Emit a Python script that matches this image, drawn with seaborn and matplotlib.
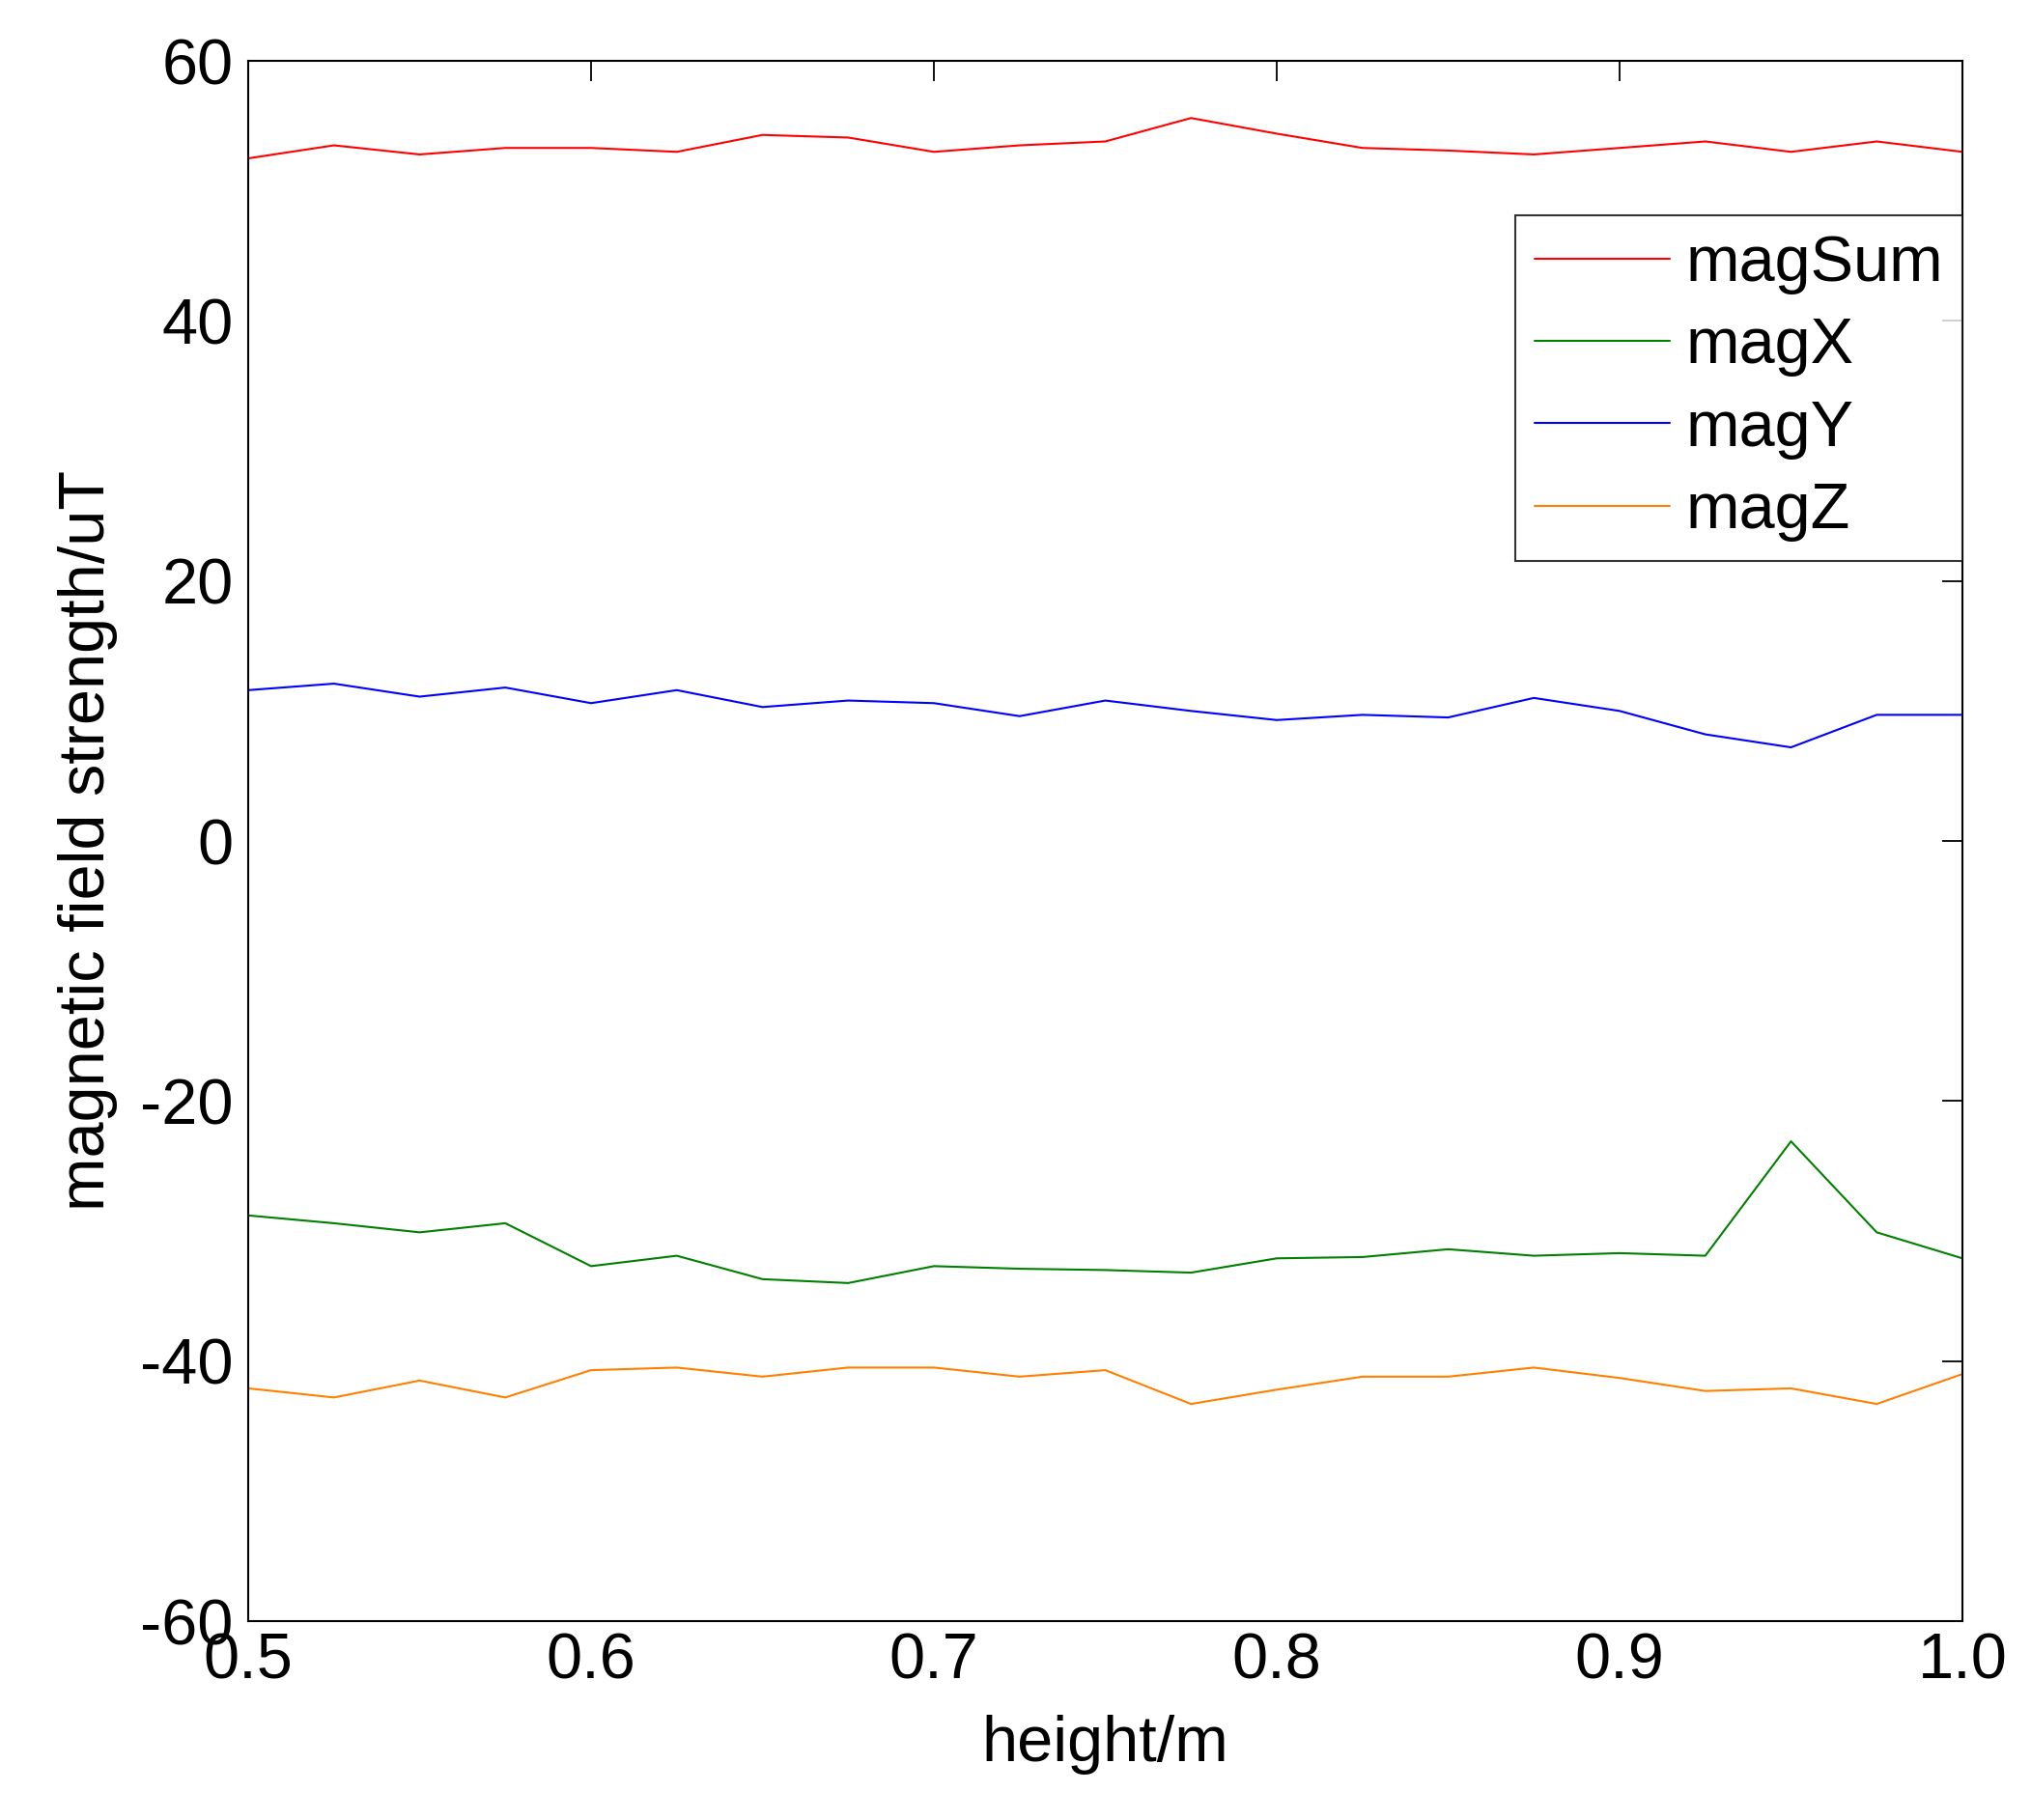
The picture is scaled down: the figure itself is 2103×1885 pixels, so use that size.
import numpy as np
import pandas as pd
import matplotlib
matplotlib.use("Agg")
import matplotlib.pyplot as plt
import seaborn as sns

# ── Data ───────────────────────────────────────────────
height = [0.5, 0.525, 0.55, 0.575, 0.6, 0.625, 0.65, 0.675, 0.7, 0.725, 0.75,
          0.775, 0.8, 0.825, 0.85, 0.875, 0.9, 0.925, 0.95, 0.975, 1.0]
mag_sum = [52.5, 53.5, 52.8, 53.3, 53.3, 53.0, 54.3, 54.1, 53.0, 53.5, 53.8,
           55.6, 54.4, 53.3, 53.1, 52.8, 53.3, 53.8, 53.0, 53.8, 53.0]
mag_x = [-28.8, -29.4, -30.1, -29.4, -32.7, -31.9, -33.7, -34.0, -32.7, -32.9, -33.0,
         -33.2, -32.1, -32.0, -31.4, -31.9, -31.7, -31.9, -23.1, -30.1, -32.1]
mag_y = [11.6, 12.1, 11.1, 11.8, 10.6, 11.6, 10.3, 10.8, 10.6, 9.6, 10.8,
         10.0, 9.3, 9.7, 9.5, 11.0, 10.0, 8.2, 7.2, 9.7, 9.7]
mag_z = [-42.1, -42.8, -41.5, -42.8, -40.7, -40.5, -41.2, -40.5, -40.5, -41.2, -40.7,
         -43.3, -42.2, -41.2, -41.2, -40.5, -41.3, -42.3, -42.1, -43.3, -41.0]

series = ["magSum", "magX", "magY", "magZ"]
colors = ["#ff0000", "#008000", "#0000ff", "#ff8000"]

df = pd.DataFrame({"height": height, "magSum": mag_sum, "magX": mag_x,
                   "magY": mag_y, "magZ": mag_z})
long_df = df.melt(id_vars="height", var_name="series", value_name="value")

# ── Style ──────────────────────────────────────────────
sns.set_style("white")
plt.rcParams["font.family"] = ["Liberation Sans", "DejaVu Sans"]
plt.rcParams["axes.unicode_minus"] = False
plt.rcParams["text.color"] = "black"
plt.rcParams["axes.labelcolor"] = "black"
FS = 48

W, H = 2103, 1885
fig = plt.figure(figsize=(W / 100, H / 100), dpi=100)
ax = fig.add_axes([257 / W, 1 - 1679 / H, (2032 - 257) / W, (1679 - 63) / H])

sns.lineplot(data=long_df, x="height", y="value", hue="series",
             hue_order=series, palette=colors, linewidth=1.5, ax=ax,
             legend=True)

ax.set_xlim(0.5, 1.0)
ax.set_ylim(-60, 60)
ax.set_xticks(np.arange(0.5, 1.01, 0.1))
ax.set_xticklabels(["0.5", "0.6", "0.7", "0.8", "0.9", "1.0"])
ax.set_yticks(np.arange(-60, 61, 20))

for side in ax.spines.values():
    side.set_visible(True)
    side.set_color("black")
    side.set_linewidth(1.5)

ax.tick_params(axis="both", direction="in", length=15, width=1.3,
               top=True, right=True, labelsize=FS, colors="black")
ax.tick_params(axis="y", pad=11)
ax.tick_params(axis="x", pad=8)

ax.set_xlabel("height/m", fontsize=FS, color="black")
ax.set_ylabel("magnetic field strength/uT", fontsize=FS, color="black")
ax.xaxis.set_label_coords(0.5, -0.079)
ax.xaxis.label.set_va("center")
ax.yaxis.set_label_coords(-0.0935, 0.5)
ax.yaxis.label.set_va("center")

# ── Legend ─────────────────────────────────────────────
handles, labels = ax.get_legend_handles_labels()
leg = ax.legend(handles, labels, loc="upper right", bbox_to_anchor=(1.0, 0.901),
                fontsize=FS, frameon=True, fancybox=False, borderaxespad=0,
                handlelength=2.1, handletextpad=0.25, labelspacing=0.35,
                borderpad=0.3)
leg.get_frame().set_edgecolor("black")
leg.get_frame().set_linewidth(1.5)
for line in leg.get_lines():
    line.set_linewidth(1.5)
for t in leg.get_texts():
    t.set_color("black")

fig.savefig("out.png", dpi=100, facecolor="white")
